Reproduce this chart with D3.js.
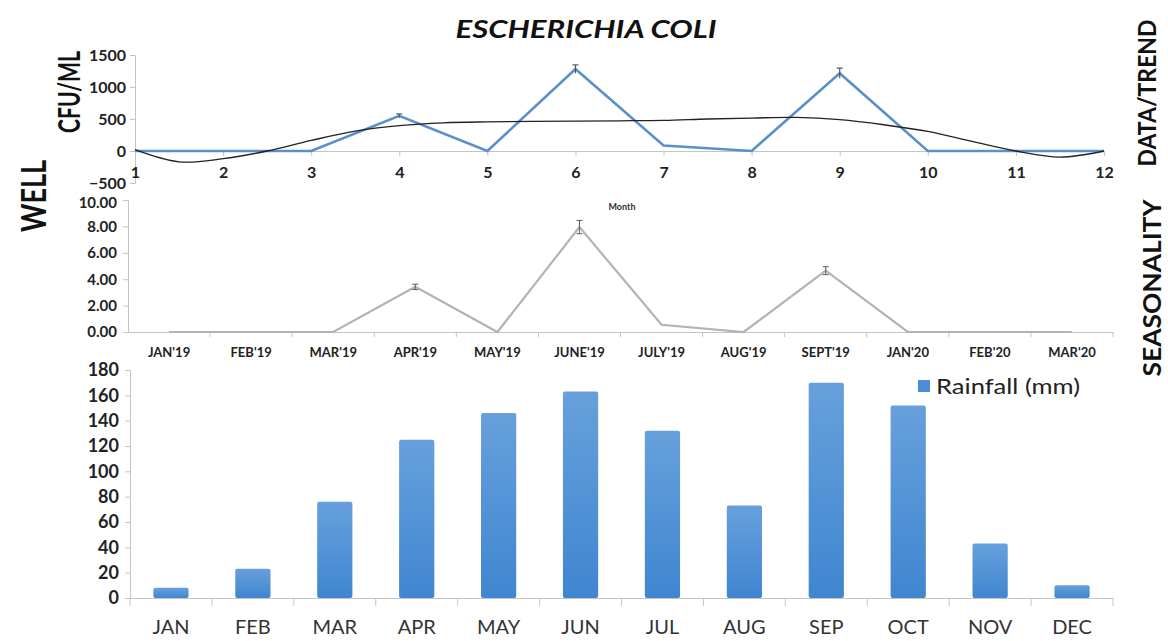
<!DOCTYPE html>
<html><head><meta charset="utf-8">
<script src="https://cdn.jsdelivr.net/npm/d3@7"></script>
<style>body{margin:0;background:#fff}svg{display:block}text{font-family:Lato,"Open Sans",sans-serif}</style>
</head><body>
<svg id="c" width="1168" height="641"></svg>
<script>
// ---- data ----
const trendMonths = [1,2,3,4,5,6,7,8,9,10,11,12];
const cfuValues   = [0,0,0,550,0,1280,85,0,1215,0,0,0];
const cfuErrors   = [0,0,0,30,0,65,0,0,80,0,0,0];
const trendX      = [1,1.5,2,2.5,3,3.5,4,4.5,5,5.5,6,6.5,7,7.5,8,8.5,9,9.5,10,10.5,11,11.5,12];
const trendValues = [20,-170,-120,0,165,310,395,440,455,462,468,472,478,500,515,525,490,410,305,150,0,-95,0];
const topTicks    = [-500,0,500,1000,1500];

const seasonCats   = ["JAN'19","FEB'19","MAR'19","APR'19","MAY'19","JUNE'19","JULY'19","AUG'19","SEPT'19","JAN'20","FEB'20","MAR'20"];
const seasonValues = [0,0,0,3.42,0,7.95,0.55,0,4.65,0,0,0];
const seasonErrors = [0,0,0,0.2,0,0.5,0,0,0.3,0,0,0];
const seasonTicks  = [0,2,4,6,8,10];

const rainCats   = ["JAN","FEB","MAR","APR","MAY","JUN","JUL","AUG","SEP","OCT","NOV","DEC"];
const rainValues = [8,23,76,125,146,163,132,73,170,152,43,10];
const rainTicks  = [0,20,40,60,80,100,120,140,160,180];

const svg = d3.select("#c");
const axisGray = "#c4c4c4";

// gradient
const defs = svg.append("defs");
const g1 = defs.append("linearGradient").attr("id","bar").attr("x1",0).attr("x2",0).attr("y1",0).attr("y2",1);
g1.append("stop").attr("offset","0%").attr("stop-color","#67a0dc");
g1.append("stop").attr("offset","100%").attr("stop-color","#3f86d0");

// ---- titles / side labels ----
svg.append("text").attr("x",586).attr("y",38).attr("text-anchor","middle")
  .attr("font-size",24).attr("font-weight","bold").attr("font-style","italic").attr("fill","#111")
  .attr("textLength",261).attr("lengthAdjust","spacingAndGlyphs").text("ESCHERICHIA COLI");
function vlabel(x,y,txt,size,len){
  svg.append("text").attr("transform",`translate(${x},${y}) rotate(-90)`).attr("text-anchor","middle")
    .attr("font-size",size).attr("font-weight","bold").attr("fill","#111")
    .attr("textLength",len).attr("lengthAdjust","spacingAndGlyphs").text(txt);
}
vlabel(46,196,"WELL",34,72);
vlabel(80,92,"CFU/ML",30,82);
vlabel(1156,93,"DATA/TREND",24,147);
vlabel(1161,288,"SEASONALITY",24,177);

function styleTicks(sel,size,weight,fill){
  sel.select(".domain").attr("stroke",axisGray);
  sel.selectAll(".tick line").attr("stroke",axisGray);
  sel.selectAll(".tick text").attr("font-size",size).attr("font-weight",weight).attr("fill",fill).attr("font-family","Lato");
}

// ---- top panel ----
const xT = d3.scaleLinear().domain([1,12]).range([135,1104]);
const yT = d3.scaleLinear().domain([-500,1500]).range([183,55]);
const gT = svg.append("g");
const axL = gT.append("g").attr("transform","translate(135,0)")
  .call(d3.axisLeft(yT).tickValues(topTicks).tickSize(5).tickPadding(4).tickFormat(d3.format("d")));
styleTicks(axL,16,"bold","#222");
const axB = gT.append("g").attr("transform",`translate(0,${yT(0)})`)
  .call(d3.axisBottom(xT).tickValues(trendMonths).tickSize(5).tickPadding(11).tickFormat(d3.format("d")));
styleTicks(axB,16,"bold","#222");

gT.append("path").datum(trendMonths.map((m,i)=>[m,cfuValues[i]]))
  .attr("fill","none").attr("stroke","#5b8fcc").attr("stroke-width",2.6)
  .attr("d",d3.line().x(d=>xT(d[0])).y(d=>yT(d[1])));
trendMonths.forEach((m,i)=>{
  if(cfuErrors[i]>0){
    const x=xT(m);
    gT.append("line").attr("x1",x).attr("x2",x).attr("y1",yT(cfuValues[i]-cfuErrors[i])).attr("y2",yT(cfuValues[i]+cfuErrors[i])).attr("stroke","#555").attr("stroke-width",1.2);
    gT.append("line").attr("x1",x-3).attr("x2",x+3).attr("y1",yT(cfuValues[i]+cfuErrors[i])).attr("y2",yT(cfuValues[i]+cfuErrors[i])).attr("stroke","#555").attr("stroke-width",1.2);
  }
});
gT.append("path").datum(trendX.map((m,i)=>[m,trendValues[i]]))
  .attr("fill","none").attr("stroke","#222").attr("stroke-width",1.3)
  .attr("d",d3.line().curve(d3.curveCatmullRom).x(d=>xT(d[0])).y(d=>yT(d[1])));

// ---- middle panel ----
const xS = d3.scaleBand().domain(seasonCats).range([128,1113]);
const yS = d3.scaleLinear().domain([0,10]).range([332,200]);
const gS = svg.append("g");
const sL = gS.append("g").attr("transform","translate(128,0)")
  .call(d3.axisLeft(yS).tickValues(seasonTicks).tickSize(5).tickPadding(6).tickFormat(d3.format(".2f")));
styleTicks(sL,15,"bold","#222");
sL.selectAll(".tick text").filter(d=>d===10).attr("dy","0.5em");
const sB = gS.append("g").attr("transform","translate(0,332)")
  .call(d3.axisBottom(xS).tickSize(0).tickPadding(16));
styleTicks(sB,13,"bold","#222");
gS.selectAll(".sb").data(d3.range(1,13)).enter().append("line")
  .attr("x1",i=>xS.range()[0]+i*xS.step()).attr("x2",i=>xS.range()[0]+i*xS.step())
  .attr("y1",332).attr("y2",337).attr("stroke",axisGray);
const cS = d=>xS(d)+xS.bandwidth()/2;
gS.append("path").datum(seasonCats.map((c,i)=>[c,seasonValues[i]]))
  .attr("fill","none").attr("stroke","#b3b3b3").attr("stroke-width",2.2)
  .attr("d",d3.line().x(d=>cS(d[0])).y(d=>yS(d[1])));
seasonCats.forEach((c,i)=>{
  if(seasonErrors[i]>0){
    const x=cS(c);
    gS.append("line").attr("x1",x).attr("x2",x).attr("y1",yS(seasonValues[i]-seasonErrors[i])).attr("y2",yS(seasonValues[i]+seasonErrors[i])).attr("stroke","#666").attr("stroke-width",1.1);
    [seasonValues[i]-seasonErrors[i],seasonValues[i]+seasonErrors[i]].forEach(v=>
      gS.append("line").attr("x1",x-3).attr("x2",x+3).attr("y1",yS(v)).attr("y2",yS(v)).attr("stroke","#666").attr("stroke-width",1.1));
  }
});
svg.append("text").attr("x",622).attr("y",210).attr("text-anchor","middle").attr("font-size",9).attr("font-weight","bold").attr("fill","#333").text("Month");

// ---- bottom panel ----
const xR = d3.scaleBand().domain(rainCats).range([130,1113]).paddingInner(0.57).paddingOuter(0.285);
const yR = d3.scaleLinear().domain([0,180]).range([598,370]);
const gR = svg.append("g");
const rL = gR.append("g").attr("transform","translate(130,0)")
  .call(d3.axisLeft(yR).tickValues(rainTicks).tickSize(5).tickPadding(6));
styleTicks(rL,18,"bold","#222");
gR.selectAll(".bar").data(rainCats).enter().append("rect")
  .attr("x",d=>xR(d)).attr("width",xR.bandwidth())
  .attr("y",(d,i)=>yR(rainValues[i])).attr("height",(d,i)=>yR(0)-yR(rainValues[i]))
  .attr("rx",2).attr("fill","url(#bar)");
const rB = gR.append("g").attr("transform","translate(0,598)")
  .call(d3.axisBottom(xR).tickSize(0).tickPadding(22));
styleTicks(rB,20,"normal","#333");
const stepR = (1113-130)/12;
gR.selectAll(".rb").data(d3.range(13)).enter().append("line")
  .attr("x1",i=>130+i*stepR).attr("x2",i=>130+i*stepR).attr("y1",598).attr("y2",606).attr("stroke",axisGray);
// legend
svg.append("rect").attr("x",918).attr("y",380).attr("width",12).attr("height",12).attr("fill","#4a8fd4");
svg.append("text").attr("x",936).attr("y",394).attr("font-size",22).attr("fill","#222")
  .attr("textLength",144).attr("lengthAdjust","spacingAndGlyphs").text("Rainfall (mm)");
</script>
</body></html>
